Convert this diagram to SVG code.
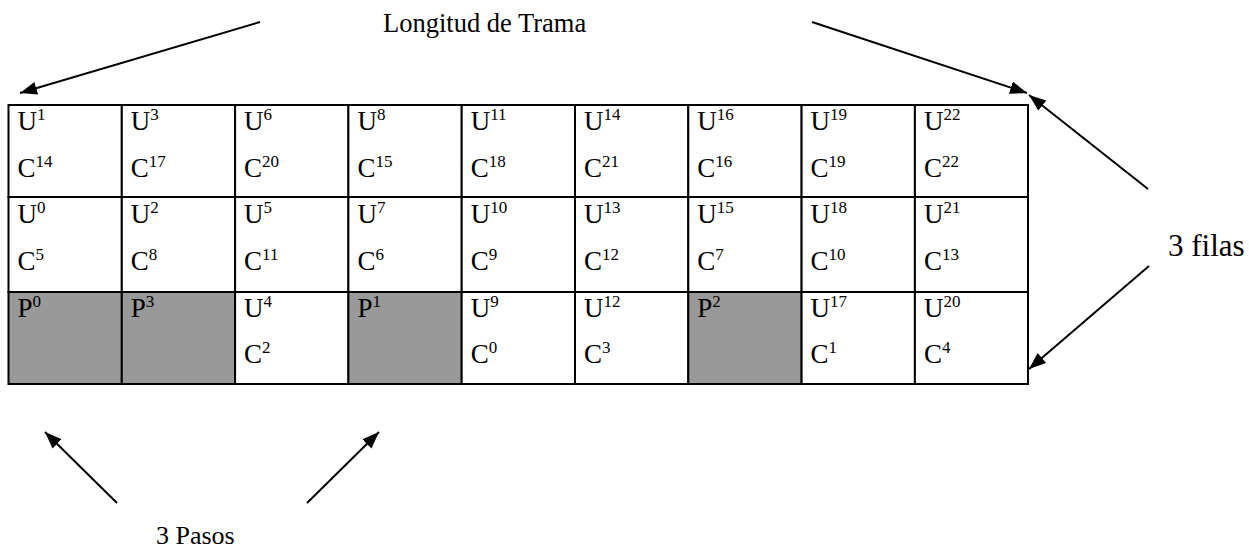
<svg xmlns="http://www.w3.org/2000/svg" width="1249" height="550" viewBox="0 0 1249 550">
<style>
.cell{fill:#ffffff;stroke:#000;stroke-width:2}
.gray{fill:#999999;stroke:#000;stroke-width:2}
.t{font-family:"Liberation Serif","Times New Roman",serif;font-size:27px;fill:#000}
.t tspan{font-size:17px}
.lbl{font-family:"Liberation Serif","Times New Roman",serif;fill:#000}
.arr{stroke:#000;stroke-width:2;fill:none;marker-end:url(#ah)}
</style>
<defs>
<marker id="ah" markerUnits="userSpaceOnUse" markerWidth="18" markerHeight="14" refX="17" refY="6.5" orient="auto">
<path d="M0,0 L17,6.5 L0,13 z" fill="#000"/>
</marker>
</defs>
<rect width="1249" height="550" fill="#fff"/>
<!-- row 1 -->
<g id="r1c1"><rect class="cell" x="8.5" y="105" width="113.3" height="92"/><text class="t" x="17.5" y="130">U<tspan dy="-10">1</tspan></text><text class="t" x="17.5" y="176.5">C<tspan dy="-10">14</tspan></text></g>
<g id="r1c2"><rect class="cell" x="121.8" y="105" width="113.3" height="92"/><text class="t" x="130.8" y="130">U<tspan dy="-10">3</tspan></text><text class="t" x="130.8" y="176.5">C<tspan dy="-10">17</tspan></text></g>
<g id="r1c3"><rect class="cell" x="235.1" y="105" width="113.3" height="92"/><text class="t" x="244.1" y="130">U<tspan dy="-10">6</tspan></text><text class="t" x="244.1" y="176.5">C<tspan dy="-10">20</tspan></text></g>
<g id="r1c4"><rect class="cell" x="348.4" y="105" width="113.3" height="92"/><text class="t" x="357.4" y="130">U<tspan dy="-10">8</tspan></text><text class="t" x="357.4" y="176.5">C<tspan dy="-10">15</tspan></text></g>
<g id="r1c5"><rect class="cell" x="461.7" y="105" width="113.3" height="92"/><text class="t" x="470.7" y="130">U<tspan dy="-10">11</tspan></text><text class="t" x="470.7" y="176.5">C<tspan dy="-10">18</tspan></text></g>
<g id="r1c6"><rect class="cell" x="575" y="105" width="113.3" height="92"/><text class="t" x="584" y="130">U<tspan dy="-10">14</tspan></text><text class="t" x="584" y="176.5">C<tspan dy="-10">21</tspan></text></g>
<g id="r1c7"><rect class="cell" x="688.3" y="105" width="113.3" height="92"/><text class="t" x="697.3" y="130">U<tspan dy="-10">16</tspan></text><text class="t" x="697.3" y="176.5">C<tspan dy="-10">16</tspan></text></g>
<g id="r1c8"><rect class="cell" x="801.6" y="105" width="113.3" height="92"/><text class="t" x="810.6" y="130">U<tspan dy="-10">19</tspan></text><text class="t" x="810.6" y="176.5">C<tspan dy="-10">19</tspan></text></g>
<g id="r1c9"><rect class="cell" x="914.9" y="105" width="113.1" height="92"/><text class="t" x="923.9" y="130">U<tspan dy="-10">22</tspan></text><text class="t" x="923.9" y="176.5">C<tspan dy="-10">22</tspan></text></g>
<!-- row 2 -->
<g id="r2c1"><rect class="cell" x="8.5" y="197" width="113.3" height="95"/><text class="t" x="17.5" y="223">U<tspan dy="-10">0</tspan></text><text class="t" x="17.5" y="270">C<tspan dy="-10">5</tspan></text></g>
<g id="r2c2"><rect class="cell" x="121.8" y="197" width="113.3" height="95"/><text class="t" x="130.8" y="223">U<tspan dy="-10">2</tspan></text><text class="t" x="130.8" y="270">C<tspan dy="-10">8</tspan></text></g>
<g id="r2c3"><rect class="cell" x="235.1" y="197" width="113.3" height="95"/><text class="t" x="244.1" y="223">U<tspan dy="-10">5</tspan></text><text class="t" x="244.1" y="270">C<tspan dy="-10">11</tspan></text></g>
<g id="r2c4"><rect class="cell" x="348.4" y="197" width="113.3" height="95"/><text class="t" x="357.4" y="223">U<tspan dy="-10">7</tspan></text><text class="t" x="357.4" y="270">C<tspan dy="-10">6</tspan></text></g>
<g id="r2c5"><rect class="cell" x="461.7" y="197" width="113.3" height="95"/><text class="t" x="470.7" y="223">U<tspan dy="-10">10</tspan></text><text class="t" x="470.7" y="270">C<tspan dy="-10">9</tspan></text></g>
<g id="r2c6"><rect class="cell" x="575" y="197" width="113.3" height="95"/><text class="t" x="584" y="223">U<tspan dy="-10">13</tspan></text><text class="t" x="584" y="270">C<tspan dy="-10">12</tspan></text></g>
<g id="r2c7"><rect class="cell" x="688.3" y="197" width="113.3" height="95"/><text class="t" x="697.3" y="223">U<tspan dy="-10">15</tspan></text><text class="t" x="697.3" y="270">C<tspan dy="-10">7</tspan></text></g>
<g id="r2c8"><rect class="cell" x="801.6" y="197" width="113.3" height="95"/><text class="t" x="810.6" y="223">U<tspan dy="-10">18</tspan></text><text class="t" x="810.6" y="270">C<tspan dy="-10">10</tspan></text></g>
<g id="r2c9"><rect class="cell" x="914.9" y="197" width="113.1" height="95"/><text class="t" x="923.9" y="223">U<tspan dy="-10">21</tspan></text><text class="t" x="923.9" y="270">C<tspan dy="-10">13</tspan></text></g>
<!-- row 3 -->
<g id="r3c1"><rect class="gray" x="8.5" y="292" width="113.3" height="92"/><text class="t" x="17.5" y="317">P<tspan dy="-10">0</tspan></text></g>
<g id="r3c2"><rect class="gray" x="121.8" y="292" width="113.3" height="92"/><text class="t" x="130.8" y="317">P<tspan dy="-10">3</tspan></text></g>
<g id="r3c3"><rect class="cell" x="235.1" y="292" width="113.3" height="92"/><text class="t" x="244.1" y="317">U<tspan dy="-10">4</tspan></text><text class="t" x="244.1" y="363">C<tspan dy="-10">2</tspan></text></g>
<g id="r3c4"><rect class="gray" x="348.4" y="292" width="113.3" height="92"/><text class="t" x="357.4" y="317">P<tspan dy="-10">1</tspan></text></g>
<g id="r3c5"><rect class="cell" x="461.7" y="292" width="113.3" height="92"/><text class="t" x="470.7" y="317">U<tspan dy="-10">9</tspan></text><text class="t" x="470.7" y="363">C<tspan dy="-10">0</tspan></text></g>
<g id="r3c6"><rect class="cell" x="575" y="292" width="113.3" height="92"/><text class="t" x="584" y="317">U<tspan dy="-10">12</tspan></text><text class="t" x="584" y="363">C<tspan dy="-10">3</tspan></text></g>
<g id="r3c7"><rect class="gray" x="688.3" y="292" width="113.3" height="92"/><text class="t" x="697.3" y="317">P<tspan dy="-10">2</tspan></text></g>
<g id="r3c8"><rect class="cell" x="801.6" y="292" width="113.3" height="92"/><text class="t" x="810.6" y="317">U<tspan dy="-10">17</tspan></text><text class="t" x="810.6" y="363">C<tspan dy="-10">1</tspan></text></g>
<g id="r3c9"><rect class="cell" x="914.9" y="292" width="113.1" height="92"/><text class="t" x="923.9" y="317">U<tspan dy="-10">20</tspan></text><text class="t" x="923.9" y="363">C<tspan dy="-10">4</tspan></text></g>
<!-- labels -->
<g id="lbl-longitud"><text class="lbl" x="383" y="32" font-size="26.5">Longitud de Trama</text></g>
<g id="lbl-filas"><text class="lbl" x="1168" y="256" font-size="31">3 filas</text></g>
<g id="lbl-pasos"><text class="lbl" x="156" y="544" font-size="26">3 Pasos</text></g>
<!-- connectors -->
<g id="connectors">
<line class="arr" x1="260" y1="22" x2="20" y2="93"/>
<line class="arr" x1="812" y1="22" x2="1027" y2="93"/>
<line class="arr" x1="1148" y1="189" x2="1029" y2="95"/>
<line class="arr" x1="1149" y1="266" x2="1029" y2="369"/>
<line class="arr" x1="117" y1="503" x2="45" y2="432"/>
<line class="arr" x1="307" y1="503" x2="379" y2="432"/>
</g>
</svg>
